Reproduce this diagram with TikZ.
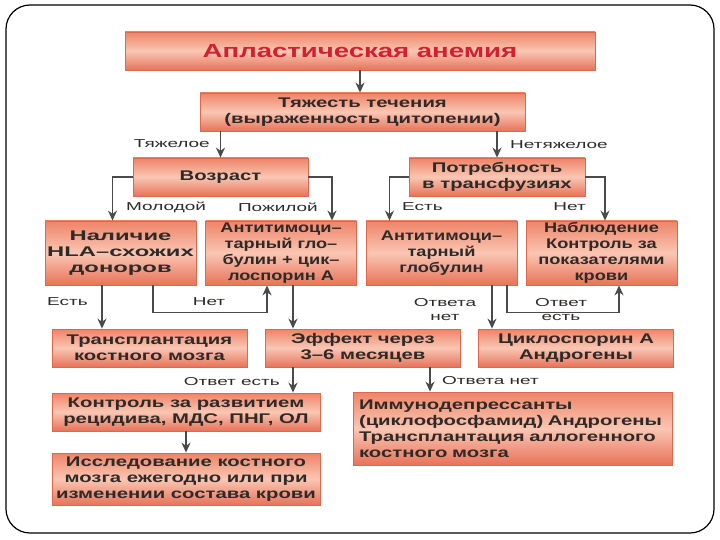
\documentclass[tikz,border=0pt]{standalone}
\usepackage{fontspec}
\setmainfont{Liberation Sans}
\newfontfamily\boxfont{Liberation Sans}[FakeStretch=1.45]
\newfontfamily\narrowbox{Liberation Sans}[FakeStretch=1.3]
\newfontfamily\widebox{Liberation Sans}[FakeStretch=1.7]
\newfontfamily\lblfont{Liberation Sans}[FakeStretch=1.65]
\usetikzlibrary{arrows.meta}
\usetikzlibrary{positioning}
\definecolor{boxtop}{HTML}{EE8468}
\definecolor{boxmid}{HTML}{FAC6B3}
\definecolor{boxbot}{HTML}{E8735A}
\definecolor{boxedge}{HTML}{DE684E}
\definecolor{boxtext}{HTML}{2E2A28}
\definecolor{titlered}{HTML}{D4202C}
\definecolor{linegray}{HTML}{4A4A4A}

\begin{document}
\begin{tikzpicture}[x=1pt,y=-1pt,
        box/.style={draw=boxedge, line width=0.8pt, top color=boxtop,
            bottom color=boxbot, middle color=boxmid, text=boxtext,
            align=center, inner sep=0pt,
            font=\boxfont\bfseries\fontsize{14}{16}\selectfont},
        narrow/.style={font=\narrowbox\bfseries\fontsize{14}{16}\selectfont},
        lbl/.style={text=boxtext, inner sep=0pt, align=center,
            font=\lblfont\fontsize{11.5}{14}\selectfont},
        arr/.style={draw=linegray, line width=1.4pt,
            -{Stealth[length=10pt,width=9pt]}}]
    \useasboundingbox (0,0) rectangle (720,540);
    \draw[line width=1.2pt, rounded corners=24pt] (6,5) rectangle (714,533);

    \node[box, minimum width=470pt, minimum height=38pt, text=titlered,
        font=\boxfont\bfseries\fontsize{19}{21}\selectfont] (anemia) at (360,51) {Апластическая анемия};
    \node[box, minimum width=325pt, minimum height=38pt] (severity) at (362.5,112) {Тяжесть течения\\(выраженность цитопении)};
    \node[box, minimum width=175pt, minimum height=38pt] (age) at (220.5,177) {Возраст};
    \node[box, minimum width=176pt, minimum height=38pt] (need) at (497,177) {Потребность\\в трансфузиях};
    \node[box, minimum width=151pt, minimum height=64pt,
        font=\widebox\bfseries\fontsize{14}{16}\selectfont] (hla) at (120.5,253) {Наличие\\HLA–схожих\\доноров};
    \node[box, narrow, minimum width=151pt, minimum height=64pt] (atgcyc) at (281,253) {Антитимоци–\\тарный гло–\\булин + цик–\\лоспорин А};
    \node[box, narrow, minimum width=151pt, minimum height=64pt] (atg) at (441.5,253) {Антитимоци–\\тарный\\глобулин};
    \node[box, narrow, minimum width=151pt, minimum height=64pt] (observe) at (601.5,253) {Наблюдение\\Контроль за\\показателями\\крови};
    \node[box, minimum width=195pt, minimum height=38pt] (transpl) at (149.5,348) {Трансплантация\\костного мозга};
    \node[box, minimum width=195pt, minimum height=38pt] (effect) at (363,348) {Эффект через\\3–6 месяцев};
    \node[box, minimum width=195pt, minimum height=38pt] (cyclo) at (576,348) {Циклоспорин А\\Андрогены};
    \node[box, minimum width=268pt, minimum height=38pt] (control) at (186,412) {Контроль за развитием\\рецидива, МДС, ПНГ, ОЛ};
    \node[box, minimum width=319pt, minimum height=73pt, text width=307pt, align=left] (immuno) at (512.5,428.5) {Иммунодепрессанты\\(циклофосфамид) Андрогены\\Трансплантация аллогенного\\костного мозга};
    \node[box, minimum width=268pt, minimum height=52pt] (marrow) at (186,479) {Исследование костного\\мозга ежегодно или при\\изменении состава крови};

    \draw[arr] (anemia.south) -- (anemia.south |- severity.north);
    \draw[arr] (severity.south -| age.north) -- (age.north);
    \draw[arr] (severity.south -| need.north) -- (need.north);
    \draw[arr] (age.west) -| ([xshift=-8pt]hla.north);
    \draw[arr] (age.east) -| ([xshift=51pt]atgcyc.north);
    \draw[arr] (need.west) -| ([xshift=-52pt]atg.north);
    \draw[arr] (need.east) -| ([xshift=3.5pt]observe.north);
    \draw[arr] ([xshift=-18.5pt]hla.south) -- ([xshift=-18.5pt]hla.south |- transpl.north);
    \draw[arr] ([xshift=32.5pt]hla.south) -- ++(0,27) -| ([xshift=-14pt]atgcyc.south);
    \draw[arr] ([xshift=12pt]atgcyc.south) -- ([xshift=12pt]atgcyc.south |- effect.north);
    \draw[arr] ([xshift=50.5pt]atg.south) -- ([xshift=50.5pt]atg.south |- cyclo.north);
    \draw[arr] ([xshift=65.5pt]atg.south) -- ++(0,27) -| ([xshift=17.5pt]observe.south);
    \draw[arr] ([xshift=-70pt]effect.south) -- ([xshift=-70pt]effect.south |- control.north);
    \draw[arr] ([xshift=67pt]effect.south) -- ([xshift=67pt]effect.south |- immuno.north);
    \draw[arr] (control.south) -- (marrow.north);

    \node[lbl, anchor=east] (heavy) at (210,144) {Тяжелое};
    \node[lbl, anchor=west] (light) at (510,145) {Нетяжелое};
    \node[lbl, anchor=west] (young) at (126,207) {Молодой};
    \node[lbl, anchor=east] (old) at (318,207) {Пожилой};
    \node[lbl, anchor=west] (needyes) at (402,207) {Есть};
    \node[lbl, anchor=east] (needno) at (586,207) {Нет};
    \node[lbl, anchor=west] (donoryes) at (47,302) {Есть};
    \node[lbl] (donorno) at (209,302) {Нет};
    \node[lbl] (atgno) at (445,310) {Ответа\\нет};
    \node[lbl] (atgyes) at (561,310) {Ответ\\есть};
    \node[lbl, anchor=east] (effyes) at (280,382) {Ответ есть};
    \node[lbl, anchor=west] (effno) at (442,381) {Ответа нет};
\end{tikzpicture}
\end{document}
